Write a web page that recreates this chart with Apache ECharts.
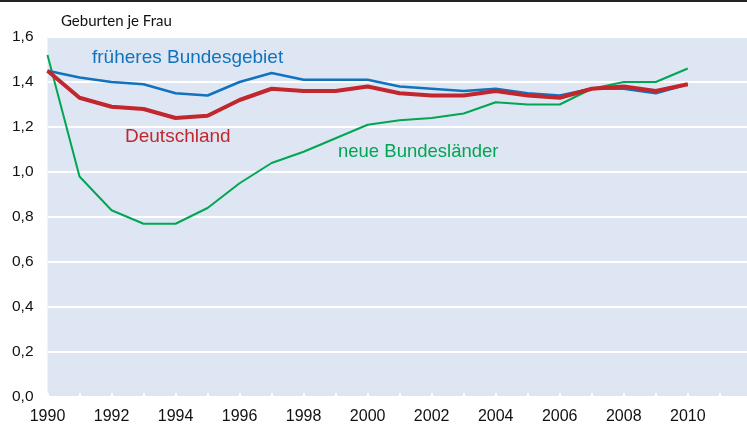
<!DOCTYPE html>
<html><head><meta charset="utf-8">
<script src="https://cdn.jsdelivr.net/npm/echarts@6/dist/echarts.min.js"></script>
<style>html,body{margin:0;padding:0;background:#fff}#c{width:747px;height:425px}</style>
</head><body><div id="c"></div>
<script>
var years = [1990,1991,1992,1993,1994,1995,1996,1997,1998,1999,2000,2001,2002,2003,2004,2005,2006,2007,2008,2009,2010];
var frueheresBundesgebiet = [1.45,1.42,1.40,1.39,1.35,1.34,1.40,1.44,1.41,1.41,1.41,1.38,1.37,1.36,1.37,1.35,1.34,1.37,1.37,1.35,1.39];
var deutschland = [1.45,1.33,1.29,1.28,1.24,1.25,1.32,1.37,1.36,1.36,1.38,1.35,1.34,1.34,1.36,1.34,1.33,1.37,1.38,1.36,1.39];
var neueBundeslaender = [1.52,0.98,0.83,0.77,0.77,0.84,0.95,1.04,1.09,1.15,1.21,1.23,1.24,1.26,1.31,1.30,1.30,1.37,1.40,1.40,1.46];
var seriesNames = ['früheres Bundesgebiet','Deutschland','neue Bundesländer'];
var yTicks = [0,0.2,0.4,0.6,0.8,1.0,1.2,1.4,1.6];

function pairs(v){return years.map(function(y,i){return [y,v[i]];});}
var chart = echarts.init(document.getElementById('c'), null, {renderer:'canvas'});
var font = 'Liberation Sans, Arial, sans-serif';
chart.setOption({
  animation:false,
  title:{text:'Geburten je Frau', left:56, top:9, textStyle:{fontFamily:'Lato, Calibri, sans-serif', fontSize:15, fontWeight:'normal', color:'#111'}},
  grid:{left:47.5, right:0, top:37, bottom:27, show:true, backgroundColor:'#dfe6f3', borderWidth:0},
  xAxis:{type:'value', min:1990, max:2011.85, interval:1,
    axisLine:{show:false},
    axisTick:{show:true, inside:true, length:4, lineStyle:{color:'#ffffff', width:2}},
    splitLine:{show:false},
    axisLabel:{showMaxLabel:false, fontFamily:font, fontSize:16, color:'#111', margin:12,
      formatter:function(v){return (v%2===0 && v<=2010)? String(v):'';}}
  },
  yAxis:{type:'value', min:0, max:1.6, interval:0.2,
    axisLine:{show:false}, axisTick:{show:false},
    splitLine:{show:true, lineStyle:{color:'#ffffff', width:2}},
    axisLabel:{fontFamily:font, fontSize:15.5, color:'#111', margin:14,
      formatter:function(v){return v.toFixed(1).replace('.',',');}}
  },
  series:[
    {name:seriesNames[2], type:'line', data:pairs(neueBundeslaender), showSymbol:false, lineStyle:{color:'#00a651', width:2}, z:2},
    {name:seriesNames[0], type:'line', data:pairs(frueheresBundesgebiet), showSymbol:false, lineStyle:{color:'#1172bd', width:2.5}, z:3},
    {name:seriesNames[1], type:'line', data:pairs(deutschland), showSymbol:false, lineStyle:{color:'#c1272d', width:4}, z:4}
  ],
  graphic:[
    {type:'rect', shape:{x:0,y:0,width:747,height:2}, style:{fill:'#222'}},
    {type:'text', left:92, top:48, style:{text:seriesNames[0], fontFamily:font, fontSize:19, fill:'#1172bd'}},
    {type:'text', left:125, top:127, style:{text:seriesNames[1], fontFamily:font, fontSize:19, fill:'#c1272d'}},
    {type:'text', left:338, top:142, style:{text:seriesNames[2], fontFamily:font, fontSize:18.5, fill:'#00a651'}}
  ]
});
</script></body></html>
